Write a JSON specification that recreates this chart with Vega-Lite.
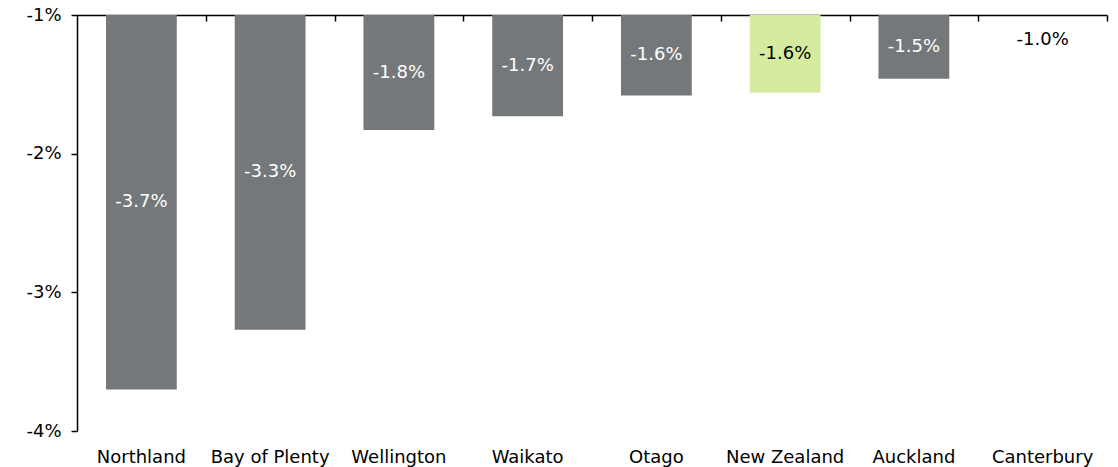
{
  "$schema": "https://vega.github.io/schema/vega-lite/v6.json",
  "autosize": "none",
  "width": 1030,
  "height": 416,
  "padding": {"left": 77, "top": 15, "right": 11, "bottom": 36},
  "background": "white",
  "config": {"view": {"stroke": null}, "font": "DejaVu Sans"},
  "data": {"values": [
    {"region": "Northland", "value": -3.7, "hl": "no"},
    {"region": "Bay of Plenty", "value": -3.27, "hl": "no"},
    {"region": "Wellington", "value": -1.83, "hl": "no"},
    {"region": "Waikato", "value": -1.73, "hl": "no"},
    {"region": "Otago", "value": -1.58, "hl": "no"},
    {"region": "New Zealand", "value": -1.56, "hl": "yes"},
    {"region": "Auckland", "value": -1.46, "hl": "no"},
    {"region": "Canterbury", "value": -1.0, "hl": "cant"}
  ]},
  "transform": [
    {"calculate": "-1", "as": "base"},
    {"calculate": "min((datum.value - 1) / 2, -1.18)", "as": "labelPos"},
    {"calculate": "'-' + format(abs(datum.value), '.1f') + '%'", "as": "label"}
  ],
  "layer": [
    {
      "mark": {"type": "bar"},
      "encoding": {
        "x": {"field": "region", "type": "nominal", "sort": null,
          "scale": {"paddingInner": 0.45, "paddingOuter": 0.225},
          "axis": {"orient": "top", "title": null, "labels": false, "tickOffset": 64.4,
            "tickSize": -6, "tickColor": "black", "tickWidth": 1.5, "domainColor": "black", "domainWidth": 1.5}},
        "y": {"field": "value", "type": "quantitative",
          "scale": {"domain": [-4, -1], "nice": false, "zero": false},
          "axis": {"title": null, "values": [-4, -3, -2, -1], "labelExpr": "datum.value + '%'", "grid": false,
            "domainColor": "black", "domainWidth": 1.5, "tickColor": "black", "tickWidth": 1.5, "tickSize": 6,
            "labelFontSize": 18, "labelColor": "black", "labelPadding": 10, "labelFont": "DejaVu Sans"}},
        "y2": {"field": "base"},
        "color": {"field": "hl", "type": "nominal",
          "scale": {"domain": ["no", "yes", "cant"], "range": ["#75787a", "#d4eba0", "#75787a"]}, "legend": null}
      }
    },
    {
      "mark": {"type": "text", "fontSize": 18, "font": "DejaVu Sans", "baseline": "middle"},
      "encoding": {
        "x": {"field": "region", "type": "nominal", "sort": null,
          "axis": {"orient": "bottom", "title": null, "domain": false, "ticks": false, "labelAngle": 0,
            "labelFontSize": 18, "labelColor": "black", "labelPadding": 17, "labelFont": "DejaVu Sans"}},
        "y": {"field": "labelPos", "type": "quantitative"},
        "text": {"field": "label"},
        "color": {"field": "hl", "type": "nominal",
          "scale": {"domain": ["no", "yes", "cant"], "range": ["white", "black", "black"]}, "legend": null}
      }
    }
  ],
  "resolve": {"axis": {"x": "independent"}, "scale": {"color": "independent"}}
}
